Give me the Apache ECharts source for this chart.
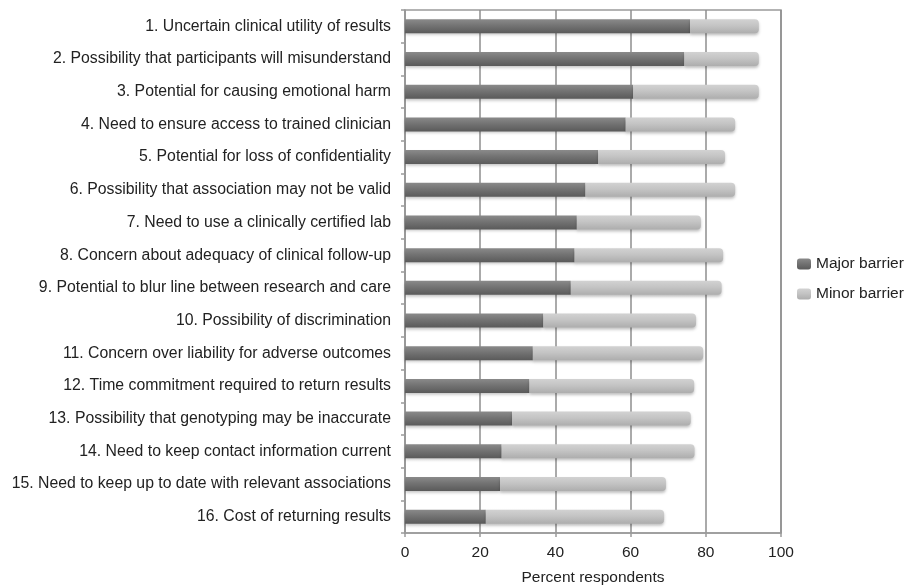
<!DOCTYPE html>
<html>
<head>
<meta charset="utf-8">
<script src="https://cdn.jsdelivr.net/npm/echarts@6/dist/echarts.min.js"></script>
<style>html,body{margin:0;padding:0;background:#fff}#c{width:908px;height:588px}</style>
</head>
<body>
<div id="c"></div>
<script>
const categories = [
  "1. Uncertain clinical utility of results",
  "2. Possibility that participants will misunderstand",
  "3. Potential for causing emotional harm",
  "4. Need to ensure access to trained clinician",
  "5. Potential for loss of confidentiality",
  "6. Possibility that association may not be valid",
  "7. Need to use a clinically certified lab",
  "8. Concern about adequacy of clinical follow-up",
  "9. Potential to blur line between research and care",
  "10. Possibility of discrimination",
  "11. Concern over liability for adverse outcomes",
  "12. Time commitment required to return results",
  "13. Possibility that genotyping may be inaccurate",
  "14. Need to keep contact information current",
  "15. Need to keep up to date with relevant associations",
  "16. Cost of returning results"
];
const majorBarrier = [75.8, 74.3, 60.7, 58.7, 51.4, 48.0, 45.7, 45.1, 44.1, 36.8, 34.0, 33.1, 28.5, 25.7, 25.3, 21.5];
const minorBarrier = [18.3, 19.8, 33.4, 29.1, 33.7, 39.8, 33.0, 39.5, 40.1, 40.6, 45.3, 43.8, 47.5, 51.3, 44.1, 47.4];
const xTicks = [0, 20, 40, 60, 80, 100];

const chart = echarts.init(document.getElementById('c'), null, {renderer: 'canvas'});
const font = 'Liberation Sans, Arial, Helvetica, sans-serif';
const majorColor = new echarts.graphic.LinearGradient(0, 0, 0, 1, [
  {offset: 0, color: '#8a8a8a'}, {offset: 0.45, color: '#737373'}, {offset: 1, color: '#5a5a5a'}
]);
const minorColor = new echarts.graphic.LinearGradient(0, 0, 0, 1, [
  {offset: 0, color: '#d2d2d2'}, {offset: 0.45, color: '#c4c4c4'}, {offset: 1, color: '#adadad'}
]);
chart.setOption({
  animation: false,
  backgroundColor: '#fff',
  textStyle: {fontFamily: font},
  grid: {left: 405, right: 127, top: 10, bottom: 55, show: true, borderColor: '#9a9a9a', borderWidth: 1.5,
    containLabel: false, outerBoundsMode: 'none'},
  legend: {
    orient: 'vertical', left: 792, top: 251, itemWidth: 14, itemHeight: 11, itemGap: 14,
    textStyle: {fontSize: 15.5, color: '#222', fontFamily: font},
    data: ['Major barrier', 'Minor barrier']
  },
  xAxis: {
    type: 'value', min: 0, max: 100, interval: 20,
    name: 'Percent respondents', nameLocation: 'middle', nameGap: 37,
    nameTextStyle: {fontSize: 15.5, color: '#222', fontFamily: font},
    axisLine: {show: true, lineStyle: {color: '#9a9a9a', width: 1.5}},
    axisTick: {show: true, length: 4, lineStyle: {color: '#9a9a9a', width: 1.5}},
    axisLabel: {fontSize: 15.5, color: '#222', margin: 12, fontFamily: font,
      formatter: v => xTicks.includes(v) ? String(v) : ''},
    splitLine: {show: true, lineStyle: {color: '#8e8e8e', width: 1.5}}
  },
  yAxis: {
    type: 'category', data: categories, inverse: true,
    axisLine: {show: true, lineStyle: {color: '#9a9a9a', width: 1.5}},
    axisTick: {show: true, length: 4, lineStyle: {color: '#9a9a9a', width: 1.5}},
    axisLabel: {fontSize: 15.8, color: '#222', margin: 14, fontFamily: font},
    splitLine: {show: false}
  },
  series: [
    {
      name: 'Major barrier', type: 'bar', stack: 'a', data: majorBarrier, barWidth: 14,
      itemStyle: {color: majorColor, shadowBlur: 3, shadowOffsetY: 2, shadowColor: 'rgba(0,0,0,0.25)'}
    },
    {
      name: 'Minor barrier', type: 'bar', stack: 'a', data: minorBarrier, barWidth: 14,
      itemStyle: {color: minorColor, borderRadius: [0, 4, 4, 0], shadowBlur: 3, shadowOffsetY: 2, shadowColor: 'rgba(0,0,0,0.25)'}
    }
  ]
});
</script>
</body>
</html>
